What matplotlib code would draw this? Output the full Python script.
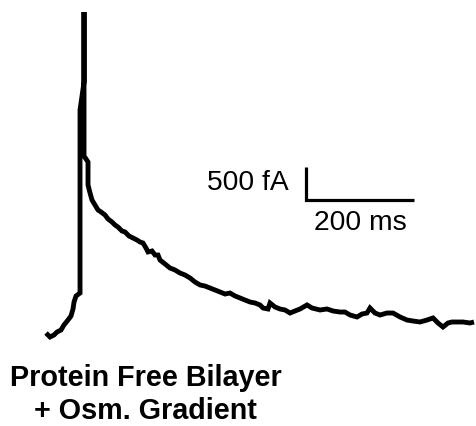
import matplotlib
matplotlib.use("Agg")
import matplotlib.pyplot as plt
import numpy as np

plt.rcParams['font.family'] = ['Liberation Sans', 'DejaVu Sans']

# Trace: time (ms) and current (fA)
time_ms = [0, 7.4, 14.8, 20.4, 27.8, 33.3, 40.7, 46.3, 50, 51.9, 55.6, 63,
           63, 70.4, 70.4, 70.4, 77.8, 77.8, 81.5, 85.2, 90.7, 96.3, 101.9,
           109.3, 114.8, 122.2, 127.8, 133.3, 140.7, 146.3, 153.7, 161.1,
           168.5, 174.1, 179.6, 185.2, 188.9, 196.3, 201.9, 207.4, 211.1,
           220.4, 229.6, 238.9, 248.1, 257.4, 266.7, 275.9, 285.2, 294.4,
           303.7, 313, 322.2, 331.5, 340.7, 350, 359.3, 368.5, 377.8, 387,
           396.3, 401.9, 411.1, 414.8, 424.1, 433.3, 442.6, 451.9, 461.1,
           470.4, 483.3, 492.6, 507.4, 520.4, 531.5, 544.4, 553.7, 563,
           575.9, 585.2, 594.4, 600, 609.3, 618.5, 631.5, 642.6, 655.6,
           668.5, 679.6, 692.6, 705.6, 716.7, 725.9, 735.2, 744.4, 751.9,
           761.1, 772.2, 785.2, 792.6]
current_fA = [30, -30, 0, 45, 76, 152, 227, 288, 394, 500, 591, 636,
              3409, 3833, 4894, 2712, 2621, 2273, 2152, 2045, 1970, 1894, 1864,
              1818, 1758, 1712, 1667, 1636, 1576, 1561, 1500, 1470,
              1439, 1409, 1394, 1318, 1258, 1273, 1212, 1212, 1136,
              1076, 1015, 985, 939, 909, 864, 803, 758, 742,
              712, 682, 652, 621, 636, 591, 561, 530, 500, 485,
              455, 409, 394, 485, 424, 394, 379, 333, 364,
              394, 455, 409, 379, 394, 364, 348, 348, 303,
              273, 318, 333, 409, 333, 303, 333, 333, 273,
              227, 212, 197, 227, 258, 182, 121, 182, 197,
              197, 197, 182, 197]

# Scale bar
bar_time_ms = 200
bar_current_fA = 500
bar_origin = (481.5, 2045)

fig = plt.figure(figsize=(4.76, 4.26), dpi=100)
ax = fig.add_axes([0, 0, 1, 1])
ax.set_xlim(-85.2, 796.3)
ax.set_ylim(-1378.8, 5075.8)
ax.axis('off')

ax.plot(time_ms, current_fA, color='black', lw=3.5,
        solid_joinstyle='miter', solid_capstyle='butt')

t0, i0 = bar_origin
ax.plot([t0, t0, t0 + bar_time_ms], [i0 + bar_current_fA, i0, i0],
        color='black', lw=2.3, solid_joinstyle='miter', solid_capstyle='butt')

ax.text(450, 2303, f"{bar_current_fA} fA", ha='right', va='center', fontsize=20.3)
ax.text(t0 + bar_time_ms / 2, 1697, f"{bar_time_ms} ms", ha='center', va='center', fontsize=20.3)

ax.text(185, -651, "Protein Free Bilayer", ha='center', va='center',
        fontsize=20.7, fontweight='bold')
ax.text(185, -1150, "+ Osm. Gradient", ha='center', va='center',
        fontsize=20.7, fontweight='bold')

fig.savefig("out.png", dpi=100)
